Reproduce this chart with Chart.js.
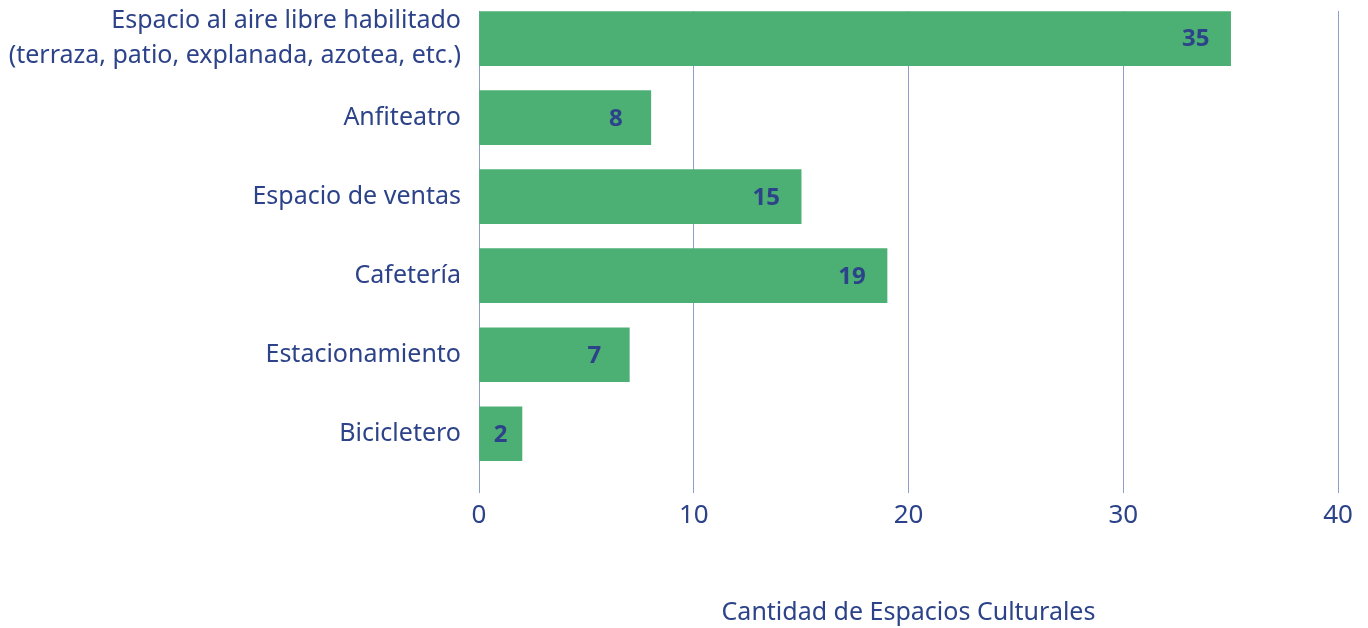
<!DOCTYPE html>
<html>
<head>
<meta charset="utf-8">
<script src="https://cdn.jsdelivr.net/npm/chart.js@4/dist/chart.umd.min.js"></script>
<style>
    html, body { margin: 0; padding: 0; background: #fff; }
    #wrap { width: 1368px; height: 628px; position: relative; }
</style>
</head>
<body>
<div id="wrap"><canvas id="chart"></canvas></div>
<script>
// Chart data
const categories = [
    ['Espacio al aire libre habilitado', '(terraza, patio, explanada, azotea, etc.)'],
    'Anfiteatro',
    'Espacio de ventas',
    'Cafetería',
    'Estacionamiento',
    'Bicicletero'
];
const counts = [35, 8, 15, 19, 7, 2];
const xTicks = [0, 10, 20, 30, 40];
const xTitle = 'Cantidad de Espacios Culturales';

const navy = '#2d4389';
const green = '#4caf73';
const gridColor = '#8d9fc9';
const fontFamily = '"Noto Sans", sans-serif';

// value labels drawn near the end of each bar
const valueLabels = {
    id: 'valueLabels',
    afterDatasetsDraw(chart) {
        const ctx = chart.ctx;
        const meta = chart.getDatasetMeta(0);
        ctx.save();
        ctx.font = 'bold 24px ' + fontFamily;
        ctx.fillStyle = navy;
        ctx.textAlign = 'center';
        ctx.textBaseline = 'middle';
        meta.data.forEach((bar, i) => {
            const x = Math.max(bar.x - 35, (bar.x + bar.base) / 2);
            ctx.fillText(String(counts[i]), x, bar.y + 1);
        });
        ctx.restore();
    }
};

new Chart(document.getElementById('chart'), {
    type: 'bar',
    data: {
        datasets: [{
            data: counts.map((v, i) => ({ x: v, y: i })),
            backgroundColor: green,
            borderWidth: 0,
            barThickness: 54
        }]
    },
    options: {
        indexAxis: 'y',
        responsive: true,
        maintainAspectRatio: false,
        animation: false,
        layout: { padding: { top: 11, right: 30, left: 0, bottom: 0 } },
        plugins: {
            legend: { display: false },
            tooltip: { enabled: false }
        },
        scales: {
            x: {
                type: 'linear',
                min: xTicks[0],
                max: xTicks[xTicks.length - 1],
                afterBuildTicks: (scale) => { scale.ticks = xTicks.map(v => ({ value: v })); },
                grid: { color: gridColor, lineWidth: 1, drawTicks: false },
                border: { display: false },
                ticks: {
                    color: navy,
                    font: { family: fontFamily, size: 26 },
                    padding: 7
                },
                title: {
                    display: true,
                    text: xTitle,
                    color: navy,
                    font: { family: fontFamily, size: 25 },
                    padding: { top: 55, bottom: 0 }
                },
                afterFit: (scale) => { scale.height = 135; }
            },
            y: {
                type: 'linear',
                reverse: true,
                offset: false,
                min: -0.35,
                max: 5.75,
                grid: { display: false },
                border: { display: false },
                ticks: {
                    stepSize: 1,
                    includeBounds: false,
                    color: navy,
                    padding: 10,
                    font: { family: fontFamily, size: 25, lineHeight: 1.4 },
                    callback: (v) => categories[v] !== undefined ? categories[v] : ''
                },
                afterFit: (scale) => {
                    scale.width = 479;
                    scale.paddingTop = 0;
                    scale.paddingBottom = 0;
                }
            }
        }
    },
    plugins: [valueLabels]
});
</script>
</body>
</html>
